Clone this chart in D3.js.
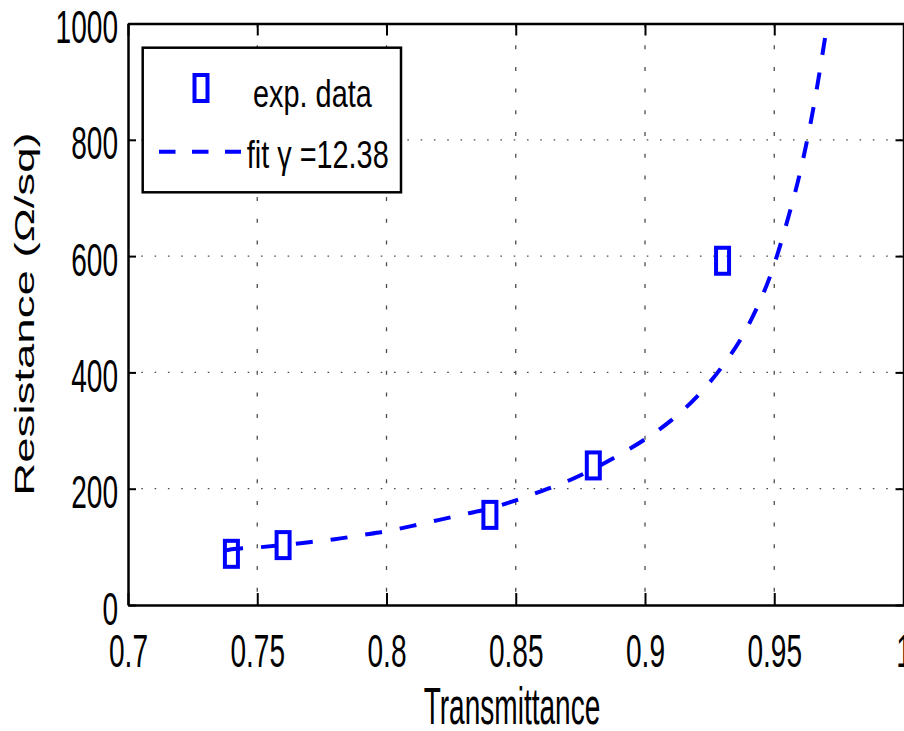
<!DOCTYPE html>
<html><head><meta charset="utf-8">
<script src="https://cdn.jsdelivr.net/npm/d3@7"></script>
<style>
html,body{margin:0;padding:0;background:#fff;}
svg{display:block;}
text{font-family:"Liberation Sans",Arial,Helvetica,sans-serif;fill:#000;}
</style></head>
<body>
<svg id="chart" width="904" height="731"></svg>
<script>
// ---- data ----
const expT = [0.74, 0.76, 0.84, 0.88, 0.93];
const expR = [88, 103, 155, 240, 592];
const fitT = [0.738, 0.74, 0.75, 0.76, 0.77, 0.78, 0.79, 0.80, 0.81, 0.82, 0.83, 0.84, 0.85, 0.86, 0.87, 0.88, 0.89, 0.90, 0.91, 0.92, 0.93, 0.94, 0.95, 0.955, 0.96, 0.965, 0.97];
const fitR = [94, 96, 99, 103, 108, 113, 120, 127, 136, 146, 156, 166, 180, 196, 213, 234, 258, 285, 317, 358, 411, 481, 586, 660, 744, 851, 985];
const xTicks = [0.7, 0.75, 0.8, 0.85, 0.9, 0.95, 1];
const xTickLabels = ["0.7", "0.75", "0.8", "0.85", "0.9", "0.95", "1"];
const yTicks = [0, 200, 400, 600, 800, 1000];
const yTickLabels = ["0", "200", "400", "600", "800", "1000"];
const legendLabels = ["exp. data", "fit \u03b3 =12.38"];
const xLabel = "Transmittance";
const yLabel = "Resistance (\u03a9/sq)";

const svg = d3.select("#chart");
const L = 128, R = 903.5, T = 23.5, B = 605;
const x = d3.scaleLinear().domain([0.7, 1]).range([L, R]);
const y = d3.scaleLinear().domain([0, 1000]).range([B, T]);
const blue = "#0000ff";

// grid
const grid = svg.append("g");
grid.selectAll("line.vg").data(xTicks.filter(v => v > 0.7 && v < 1)).enter().append("line")
  .attr("x1", d => x(d)).attr("x2", d => x(d)).attr("y1", T).attr("y2", B)
  .attr("stroke", "#000").attr("stroke-width", 1.3).attr("stroke-opacity", 0.7)
  .attr("stroke-dasharray", "4,17.7");
grid.selectAll("line.hg").data(yTicks.filter(v => v > 0 && v < 1000)).enter().append("line")
  .attr("y1", d => y(d)).attr("y2", d => y(d)).attr("x1", L).attr("x2", R)
  .attr("stroke", "#000").attr("stroke-width", 1.3).attr("stroke-opacity", 0.7)
  .attr("stroke-dasharray", "1.6,11.7");

// axes
const fmtX = (d) => xTickLabels[xTicks.indexOf(d)];
const fmtY = (d) => yTickLabels[yTicks.indexOf(d)];
const gxB = svg.append("g").attr("transform", `translate(0,${B})`)
  .call(d3.axisBottom(x).tickValues(xTicks).tickFormat(fmtX).tickSize(-12).tickSizeOuter(0));
const gxT = svg.append("g").attr("transform", `translate(0,${T})`)
  .call(d3.axisTop(x).tickValues(xTicks).tickFormat("").tickSize(-12).tickSizeOuter(0));
const gyL = svg.append("g").attr("transform", `translate(${L},0)`)
  .call(d3.axisLeft(y).tickValues(yTicks).tickFormat(fmtY).tickSize(-8).tickSizeOuter(0));
const gyR = svg.append("g").attr("transform", `translate(${R},0)`)
  .call(d3.axisRight(y).tickValues(yTicks).tickFormat("").tickSize(-8).tickSizeOuter(0));
[gxB, gxT, gyL, gyR].forEach(g => {
  g.select(".domain").attr("stroke", "#000").attr("stroke-width", 2.5);
  g.selectAll(".tick line").attr("stroke", "#000").attr("stroke-width", 2);
});
gxB.selectAll(".tick text")
  .attr("font-size", 46).attr("y", 62).attr("dy", 0).attr("text-anchor", "middle")
  .attr("transform", "scale(0.61,1)").attr("fill", "#000");
gyL.selectAll(".tick text")
  .attr("font-size", 46).attr("x", -10 / 0.61).attr("dy", 0).attr("y", 19)
  .attr("text-anchor", "end")
  .attr("transform", "scale(0.61,1)").attr("fill", "#000");

// axis labels
svg.append("text").attr("text-anchor", "middle").attr("font-size", 51)
  .attr("transform", "translate(512,724) scale(0.55,1)").text(xLabel);
svg.append("text").attr("text-anchor", "middle").attr("font-size", 45.6)
  .attr("transform", "translate(33.5,314) rotate(-90) scale(1,0.61)").text(yLabel);

// fit curve
const line = d3.line().x((d, i) => x(fitT[i])).y((d, i) => y(fitR[i])).curve(d3.curveMonotoneX);
svg.append("path").datum(fitR).attr("d", line)
  .attr("fill", "none").attr("stroke", blue).attr("stroke-width", 4)
  .attr("stroke-dasharray", "17,18");

// markers
svg.selectAll("rect.m").data(expR).enter().append("rect")
  .attr("x", (d, i) => x(expT[i]) - 6.5).attr("y", d => y(d) - 13)
  .attr("width", 13).attr("height", 26)
  .attr("fill", "none").attr("stroke", blue).attr("stroke-width", 4);

// legend
const lg = svg.append("g");
lg.append("rect").attr("x", 142.7).attr("y", 47.7).attr("width", 258.3).attr("height", 144.6)
  .attr("fill", "#fff").attr("stroke", "#000").attr("stroke-width", 2.5);
lg.append("rect").attr("x", 201 - 6.5).attr("y", 88 - 13).attr("width", 13).attr("height", 26)
  .attr("fill", "none").attr("stroke", blue).attr("stroke-width", 4);
lg.append("line").attr("x1", 159).attr("x2", 241).attr("y1", 151.7).attr("y2", 151.7)
  .attr("stroke", blue).attr("stroke-width", 4).attr("stroke-dasharray", "16.5,16.5");
lg.append("text").attr("font-size", 38).attr("transform", "translate(253,107) scale(0.76,1)").text(legendLabels[0]);
lg.append("text").attr("font-size", 38).attr("transform", "translate(246.7,168) scale(0.76,1)").text(legendLabels[1]);
</script>
</body></html>
